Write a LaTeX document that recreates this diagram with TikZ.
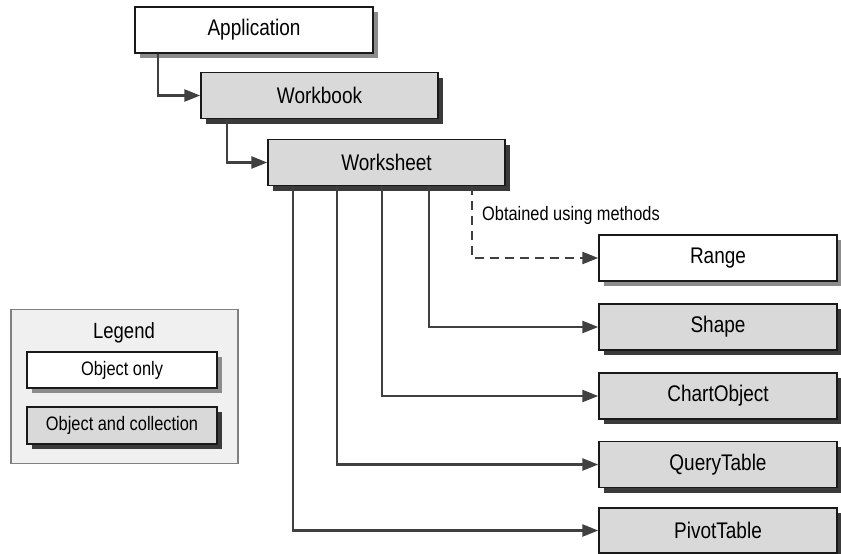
\documentclass[tikz,border=0pt]{standalone}
\usepackage{fontspec}
\setmainfont{Liberation Sans}[FakeStretch=0.84]
\usetikzlibrary{arrows.meta,shadows}

\definecolor{boxgray}{HTML}{D9D9D9}
\definecolor{lightshade}{HTML}{8C8C8C}
\definecolor{darkshade}{HTML}{3A3A3A}
\definecolor{linegray}{HTML}{404040}
\definecolor{legendfill}{HTML}{F0F0F0}

\tikzset{
  basebox/.style={draw=black!90, line width=1.4pt, minimum width=238pt, minimum height=46pt,
    inner sep=0pt, font=\fontsize{22.6}{26}\selectfont},
  objbox/.style={basebox, fill=white,
    general shadow={fill=lightshade, shadow xshift=5pt, shadow yshift=-5pt}},
  collbox/.style={basebox, fill=boxgray,
    general shadow={fill=darkshade, shadow xshift=5pt, shadow yshift=-5pt}},
  link/.style={draw=linegray, line width=2.4pt, -{Triangle[length=16pt,width=12pt]}},
}

\begin{document}
\begin{tikzpicture}[x=1pt, y=-1pt]
    \useasboundingbox (0,0) rectangle (841,554);

    % hierarchy
    \node[objbox] (app) at (254,30){Application};
    \node[collbox, minimum width=237pt] (wbk) at (319.5,95.5){Workbook};
    \node[collbox, minimum width=237pt] (wsh) at (386.5,162.5){Worksheet};

    \node[objbox] (range) at (718,258){Range};
    \node[collbox] (shape) at (718,327){Shape};
    \node[collbox] (chart) at (718,396){ChartObject};
    \node[collbox] (query) at (718,464.5){QueryTable};
    \node[collbox, minimum height=45pt] (pivot) at (718,530.5){PivotTable};

    \node[anchor=base west, font=\fontsize{19.5}{22}\selectfont, inner sep=0pt] (methods) at (482,220){Obtained using methods};

    % legend
    \node[fill=legendfill, draw=black!50, line width=1.4pt, minimum width=227pt, minimum height=154pt] (legend) at (124.5,386.5){};
    \node[anchor=base, font=\fontsize{22}{25}\selectfont, inner sep=0pt] (legtitle) at (124,338){Legend};
    \node[objbox, minimum width=190pt, minimum height=36pt, font=\fontsize{19.5}{22}\selectfont] (legobj) at (122,370){Object only};
    \node[collbox, minimum width=190pt, minimum height=37pt, font=\fontsize{19.5}{22}\selectfont] (legcoll) at (122,425.5){Object and collection};

    \draw[link] ([xshift=-96pt]app.south) |- (wbk.west);
    \draw[link] ([xshift=-92.5pt]wbk.south) |- (wsh.west);
    \draw[link, dash pattern=on 9pt off 6pt] ([xshift=85.5pt]wsh.south) |- (range.west);
    \draw[link] ([xshift=42.5pt]wsh.south) |- (shape.west);
    \draw[link] ([xshift=-4.5pt]wsh.south) |- (chart.west);
    \draw[link] ([xshift=-49.5pt]wsh.south) |- (query.west);
    \draw[link] ([xshift=-93.5pt]wsh.south) |- (pivot.west);
\end{tikzpicture}
\end{document}
